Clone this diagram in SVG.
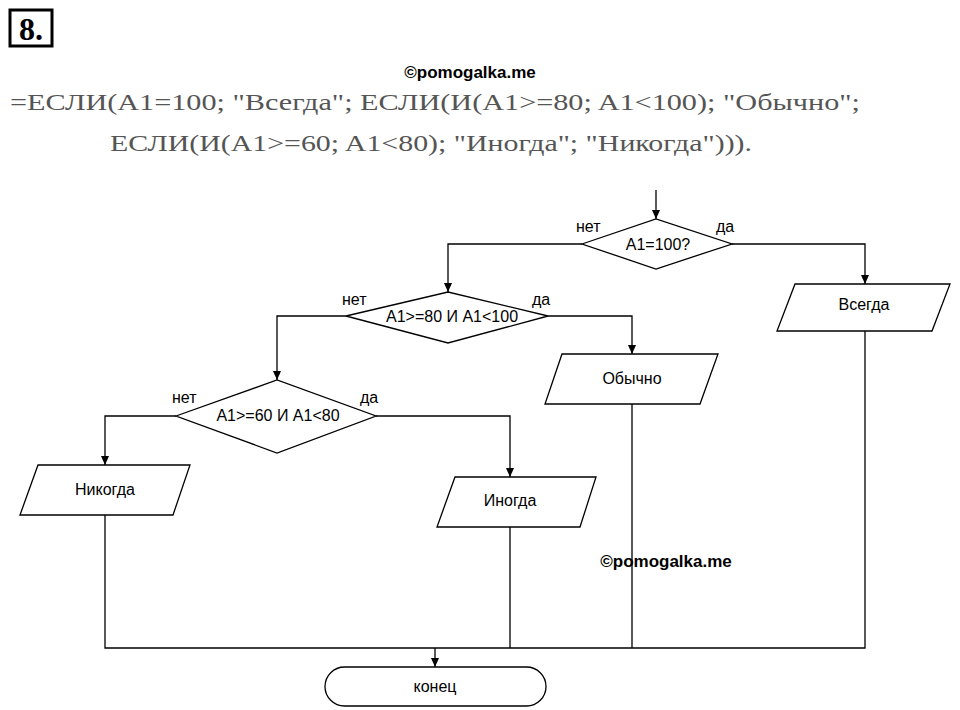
<svg xmlns="http://www.w3.org/2000/svg" width="960" height="710" viewBox="0 0 960 710">
<style>
.s{fill:#fff;stroke:#000;stroke-width:1.3}
.t{font-family:"Liberation Sans",Arial,sans-serif;font-size:16px;fill:#000;text-anchor:middle}
.l{font-family:"Liberation Sans",Arial,sans-serif;font-size:16px;fill:#000}
.c{fill:none;stroke:#000;stroke-width:1.3}
.f{font-family:"Liberation Serif","Times New Roman",serif;font-size:24px;fill:#555}
.w{font-family:"Liberation Sans",Arial,sans-serif;font-size:17px;font-weight:bold;fill:#000;text-anchor:middle}
</style>
<defs><marker id="a" markerWidth="10" markerHeight="8" refX="9" refY="4" orient="auto" markerUnits="userSpaceOnUse"><path d="M0,0 L9,4 L0,8 Z" fill="#000"/></marker></defs>
<rect width="960" height="710" fill="#fff"/>
<rect x="10" y="10" width="42" height="36" fill="none" stroke="#000" stroke-width="3"/>
<text x="31" y="40" font-family="Liberation Serif,serif" font-size="32" font-weight="bold" text-anchor="middle">8.</text>
<text class="w" x="470" y="78">©pomogalka.me</text>
<text class="f" x="10" y="110" textLength="850" lengthAdjust="spacingAndGlyphs">=ЕСЛИ(A1=100; "Всегда"; ЕСЛИ(И(A1&gt;=80; A1&lt;100); "Обычно";</text>
<text class="f" x="110" y="151" textLength="642" lengthAdjust="spacingAndGlyphs">ЕСЛИ(И(A1&gt;=60; A1&lt;80); "Иногда"; "Никогда"))).</text>
<text class="w" x="666" y="567">©pomogalka.me</text>
<g id="connectors">
<path class="c" d="M656,190 V219" marker-end="url(#a)"/>
<path class="c" d="M582,244 H448 V292" marker-end="url(#a)"/>
<path class="c" d="M732,244 H865 V284" marker-end="url(#a)"/>
<path class="c" d="M346,316 H277 V380" marker-end="url(#a)"/>
<path class="c" d="M548,316 H632 V354" marker-end="url(#a)"/>
<path class="c" d="M176,416 H105 V465" marker-end="url(#a)"/>
<path class="c" d="M376,416 H510 V477" marker-end="url(#a)"/>
<path class="c" d="M105,515 V648 H865 V331 M510,527 V648 M632,404 V648"/>
<path class="c" d="M435,648 V667" marker-end="url(#a)"/>
</g>
<g id="d1"><polygon class="s" points="582,244 656,219 732,244 656,269"/><text class="t" x="658" y="250">A1=100?</text><text class="l" x="576" y="232">нет</text><text class="l" x="716" y="232">да</text></g>
<g id="d2"><polygon class="s" points="346,316 448,292 548,316 448,343"/><text class="t" x="452" y="322">A1&gt;=80 И A1&lt;100</text><text class="l" x="342" y="305">нет</text><text class="l" x="532" y="305">да</text></g>
<g id="d3"><polygon class="s" points="176,416 277,380 376,416 277,453"/><text class="t" x="278" y="421">A1&gt;=60 И A1&lt;80</text><text class="l" x="172" y="403">нет</text><text class="l" x="360" y="403">да</text></g>
<g id="p1"><polygon class="s" points="795,284 950,284 932,331 777,331"/><text class="t" x="864" y="310">Всегда</text></g>
<g id="p2"><polygon class="s" points="562,354 718,354 700,404 545,404"/><text class="t" x="632" y="384">Обычно</text></g>
<g id="p3"><polygon class="s" points="38,465 190,465 173,515 20,515"/><text class="t" x="105" y="495">Никогда</text></g>
<g id="p4"><polygon class="s" points="455,477 596,477 580,527 437,527"/><text class="t" x="510" y="506">Иногда</text></g>
<g id="end"><rect class="s" x="325" y="667" width="221" height="39" rx="19.5"/><text class="t" x="435" y="692">конец</text></g>
</svg>
